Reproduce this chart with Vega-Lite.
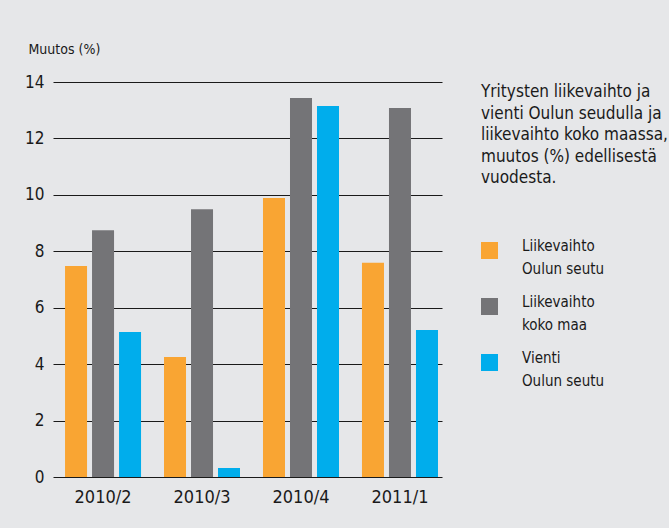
{
  "$schema": "https://vega.github.io/schema/vega-lite/v6.json",
  "width": 389,
  "height": 395,
  "autosize": {"type": "none"},
  "padding": {"left": 53, "top": 82, "right": 227, "bottom": 51},
  "background": "#e6e7e9",
  "config": {
    "view": {"stroke": null},
    "font": "DejaVu Sans Condensed",
    "style": {"guide-label": {"lineHeight": 23}}
  },
  "data": {
    "values": [
      {"period": "2010/2", "series": "Liikevaihto|Oulun seutu", "value": 7.48},
      {"period": "2010/2", "series": "Liikevaihto|koko maa", "value": 8.75},
      {"period": "2010/2", "series": "Vienti|Oulun seutu", "value": 5.14},
      {"period": "2010/3", "series": "Liikevaihto|Oulun seutu", "value": 4.25},
      {"period": "2010/3", "series": "Liikevaihto|koko maa", "value": 9.49},
      {"period": "2010/3", "series": "Vienti|Oulun seutu", "value": 0.32},
      {"period": "2010/4", "series": "Liikevaihto|Oulun seutu", "value": 9.89},
      {"period": "2010/4", "series": "Liikevaihto|koko maa", "value": 13.43},
      {"period": "2010/4", "series": "Vienti|Oulun seutu", "value": 13.15},
      {"period": "2011/1", "series": "Liikevaihto|Oulun seutu", "value": 7.59},
      {"period": "2011/1", "series": "Liikevaihto|koko maa", "value": 13.08},
      {"period": "2011/1", "series": "Vienti|Oulun seutu", "value": 5.21}
    ]
  },
  "mark": {"type": "bar"},
  "encoding": {
    "x": {
      "field": "period",
      "type": "nominal",
      "scale": {"paddingInner": 0.232, "paddingOuter": 0.081, "align": 0.75},
      "axis": {
        "title": null,
        "labelAngle": 0,
        "labelFont": "DejaVu Sans Condensed",
        "labelFontSize": 18,
        "labelColor": "#1a1a1a",
        "labelPadding": 11,
        "ticks": false,
        "domain": false,
        "grid": false
      }
    },
    "xOffset": {
      "field": "series",
      "type": "nominal",
      "sort": ["Liikevaihto|Oulun seutu", "Liikevaihto|koko maa", "Vienti|Oulun seutu"],
      "scale": {"paddingInner": 0.185, "paddingOuter": 0}
    },
    "y": {
      "field": "value",
      "type": "quantitative",
      "scale": {"domain": [0, 14], "nice": false},
      "axis": {
        "values": [0, 2, 4, 6, 8, 10, 12, 14],
        "title": "Muutos (%)",
        "titleAngle": 0,
        "titleAlign": "left",
        "titleBaseline": "alphabetic",
        "titleX": -25,
        "titleY": -29,
        "titleFont": "DejaVu Sans Condensed",
        "titleFontSize": 14,
        "titleFontWeight": "normal",
        "titleColor": "#1a1a1a",
        "labelFont": "DejaVu Sans Condensed",
        "labelFontSize": 17,
        "labelColor": "#1a1a1a",
        "labelPadding": 9,
        "ticks": false,
        "domain": false,
        "grid": true,
        "gridColor": "#1a1a1a",
        "gridWidth": 1.2
      }
    },
    "color": {
      "field": "series",
      "type": "nominal",
      "sort": ["Liikevaihto|Oulun seutu", "Liikevaihto|koko maa", "Vienti|Oulun seutu"],
      "scale": {
        "domain": ["Liikevaihto|Oulun seutu", "Liikevaihto|koko maa", "Vienti|Oulun seutu"],
        "range": ["#f9a533", "#747477", "#00adec"]
      },
      "legend": {
        "orient": "none",
        "legendX": 428,
        "legendY": 2,
        "padding": 0,
        "title": ["Yritysten liikevaihto ja", "vienti Oulun seudulla ja", "liikevaihto koko maassa,", "muutos (%) edellisestä", "vuodesta."],
        "titleFont": "DejaVu Sans Condensed",
        "titleFontSize": 17,
        "titleFontWeight": "normal",
        "titleColor": "#1a1a1a",
        "titleLineHeight": 21.5,
        "titleLimit": 400,
        "titlePadding": 55,
        "titleBaseline": "top",
        "labelExpr": "split(datum.label, '|')",
        "labelFont": "DejaVu Sans Condensed",
        "labelFontSize": 15,
        "labelColor": "#1a1a1a",
        "labelOffset": 24,
        "labelLimit": 300,
        "labelBaseline": "alphabetic",
        "symbolType": "square",
        "symbolSize": 289,
        "symbolStrokeWidth": 0,
        "symbolOpacity": 1,
        "rowPadding": 17
      }
    }
  }
}
